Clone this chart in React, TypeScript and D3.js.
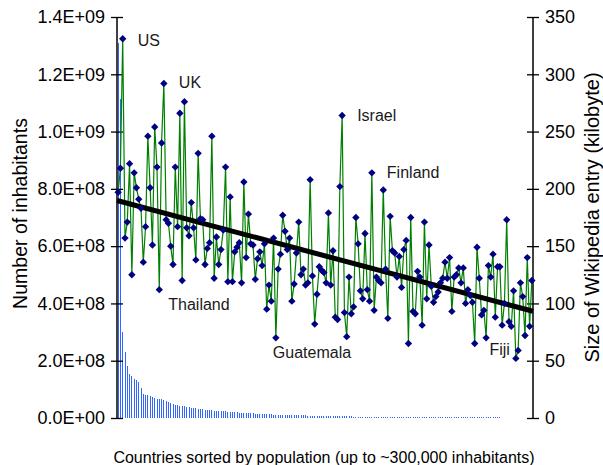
import { useEffect, useRef } from "react";
import * as d3 from "d3";

// Wikipedia article size per country (kB), countries sorted by population
const articleKb = [
  197, 218, 331, 157, 171, 222, 125, 214, 201, 191, 183, 136, 167, 246, 201, 151, 254, 219, 112, 240,
  292, 173, 170, 150, 134, 219, 167, 266, 120, 276, 166, 159, 188, 166, 138, 231, 174, 173, 134, 148,
  153, 246, 122, 158, 134, 147, 164, 219, 119, 193, 119, 145, 149, 153, 118, 206, 140, 178, 152, 151,
  121, 139,
  145, 133, 152, 95, 116, 102, 157, 70, 130, 143, 177, 163, 147, 157, 102, 117, 144, 171, 125, 130,
  116, 118, 208, 124, 82, 108, 132, 129, 127, 118, 179, 116, 146, 88, 86, 202, 264, 92, 71, 123,
  91, 97, 175, 152, 111, 104, 161, 112, 102, 214, 94, 123, 120, 118, 199, 130, 87, 176, 146, 144,
  123,
  141, 114, 147, 155, 65, 175, 93, 91, 128, 123, 81, 171, 104, 151, 115, 101, 106, 110, 118, 122,
  136, 122, 140, 93, 123, 125, 131, 118, 131, 100, 112, 107, 101, 65, 149, 122, 90, 94, 70, 133,
  123, 143, 88, 132, 132, 81, 100, 173, 84, 80, 111, 52, 59, 118, 106, 72, 140, 80, 120,
];

// Population in millions, same order
const populationM = [
  1310, 1114, 299, 230, 183, 155, 145, 137, 131, 125,
  106, 85, 81, 79, 76, 73, 70, 67, 67, 66,
  62, 59, 56, 54, 50, 45, 44, 43, 43, 42,
  40, 38, 35, 34, 34, 33, 31, 30, 29, 29,
  28, 27, 26, 26, 25, 24, 23, 23, 22, 21,
  21, 20, 19.5, 19, 18.5, 18, 17.5, 17, 16.5, 16,
  15.5, 15, 14.5, 14, 13.5, 13, 13, 12.5, 12, 12,
  11.5, 11, 11, 10.5, 10.5, 10.3, 10.1, 10, 9.8, 9.5,
  9.2, 9, 8.8, 8.5, 8.2, 8, 7.8, 7.5, 7.3, 7.2,
  7, 6.9, 6.7, 6.5, 6.4, 6.2, 6, 5.9, 5.8, 5.6,
  5.5, 5.4, 5.3, 5.2, 5.1, 5, 4.9, 4.7, 4.5, 4.4,
  4.3, 4.2, 4.1, 4, 3.9, 3.8, 3.6, 3.5, 3.4, 3.3,
  3.2, 3.1, 3.0, 2.9, 2.8, 2.7, 2.6, 2.5, 2.4, 2.3,
  2.2, 2.1, 2.0, 2.0, 1.9, 1.9, 1.8, 1.7, 1.6, 1.5,
  1.5, 1.4, 1.4, 1.3, 1.3, 1.2, 1.2, 1.1, 1.1, 1.0,
  1.0, 0.95, 0.9, 0.9, 0.85, 0.8, 0.8, 0.75, 0.7, 0.7,
  0.65, 0.65, 0.6, 0.6, 0.55, 0.55, 0.5, 0.5, 0.48, 0.46,
  0.44, 0.42, 0.41, 0.4, 0.38, 0.36, 0.35, 0.34, 0.33, 0.32,
  0.31, 0.3,
];

const leftTicks = [0, 2e8, 4e8, 6e8, 8e8, 1e9, 1.2e9, 1.4e9];
const leftTickLabels = ["0.0E+00", "2.0E+08", "4.0E+08", "6.0E+08", "8.0E+08", "1.0E+09", "1.2E+09", "1.4E+09"];
const rightTicks = [0, 50, 100, 150, 200, 250, 300, 350];
const rightTickLabels = ["0", "50", "100", "150", "200", "250", "300", "350"];

// labelled countries: index into the arrays above
const labelNames = ["US", "UK", "Thailand", "Israel", "Finland", "Guatemala", "Fiji"];
const labelIndex = [2, 20, 18, 98, 111, 69, 174];

const W = 603;
const H = 465;
const PLOT = { left: 117, right: 533, top: 17, bottom: 418 };
const FONT = "'Liberation Sans', Arial, sans-serif";
// like the spreadsheet renderer, tiny bars still get one pixel
const MIN_VISIBLE_POP = 0.5;

// label placement relative to the point
const LABEL_OFFSET: Record<string, [number, number, string]> = {
  US: [15, 7, "start"],
  UK: [15, 5, "start"],
  Thailand: [9, 20, "start"],
  Israel: [15, 5, "start"],
  Finland: [15, 5, "start"],
  Guatemala: [-3, 20, "start"],
  Fiji: [-6, -3, "end"],
};

export default function App() {
  const svgRef = useRef<SVGSVGElement>(null);

  useEffect(() => {
    if (!svgRef.current) return;
    const svg = d3.select(svgRef.current);
    svg.selectAll("*").remove();

    const n = articleKb.length;
    const x = d3.scaleLinear().domain([-0.5, n - 0.5]).range([PLOT.left, PLOT.right]);
    const yPop = d3.scaleLinear().domain([0, 1.4e9]).range([PLOT.bottom, PLOT.top]);
    const yKb = d3.scaleLinear().domain([0, 350]).range([PLOT.bottom, PLOT.top]);

    svg.append("rect").attr("width", W).attr("height", H).attr("fill", "#fff");

    // population bars
    const barH = (d: number) => {
      const h = PLOT.bottom - yPop(d * 1e6);
      return d >= MIN_VISIBLE_POP ? Math.max(1, h) : h;
    };
    svg
      .append("g")
      .attr("shape-rendering", "crispEdges")
      .selectAll("rect")
      .data(populationM.slice(0, n))
      .join("rect")
      .attr("x", (_, i) => Math.round(x(i) - 0.5))
      .attr("y", (d) => PLOT.bottom - barH(d))
      .attr("width", 1)
      .attr("height", (d) => barH(d))
      .attr("fill", "#3366ff");

    // left axis
    svg
      .append("g")
      .attr("transform", `translate(${PLOT.left},0)`)
      .call(
        d3
          .axisLeft(yPop)
          .tickValues(leftTicks)
          .tickSize(6)
          .tickPadding(6)
          .tickFormat((_, i) => leftTickLabels[i])
      )
      .call((g) => g.select(".domain").attr("stroke", "#000").attr("stroke-width", 1.5).attr("d", `M0,${PLOT.top}V${PLOT.bottom}`))
      .call((g) => g.selectAll(".tick line").attr("x1", 6).attr("stroke", "#000").attr("stroke-width", 1.3))
      .call((g) =>
        g.selectAll(".tick text").attr("fill", "#000").attr("font-size", 18).attr("font-family", FONT)
      );

    // right axis
    svg
      .append("g")
      .attr("transform", `translate(${PLOT.right},0)`)
      .call(
        d3
          .axisRight(yKb)
          .tickValues(rightTicks)
          .tickSize(6)
          .tickPadding(6)
          .tickFormat((_, i) => rightTickLabels[i])
      )
      .call((g) => g.select(".domain").attr("stroke", "#000").attr("stroke-width", 1.5).attr("d", `M0,${PLOT.top}V${PLOT.bottom}`))
      .call((g) => g.selectAll(".tick line").attr("x1", -6).attr("stroke", "#000").attr("stroke-width", 1.3))
      .call((g) =>
        g.selectAll(".tick text").attr("fill", "#000").attr("font-size", 18).attr("font-family", FONT)
      );

    // article size line
    const line = d3
      .line<number>()
      .x((_, i) => x(i))
      .y((d) => yKb(d));

    svg
      .append("path")
      .datum(articleKb)
      .attr("d", line)
      .attr("fill", "none")
      .attr("stroke", "#008000")
      .attr("stroke-width", 1.2);

    // linear trendline (least squares)
    const xm = d3.mean(articleKb, (_, i) => i) as number;
    const ym = d3.mean(articleKb) as number;
    let sxy = 0;
    let sxx = 0;
    articleKb.forEach((v, i) => {
      sxy += (i - xm) * (v - ym);
      sxx += (i - xm) * (i - xm);
    });
    const slope = sxy / sxx;
    const icpt = ym - slope * xm;
    const trendDomain = [-0.5, n - 0.5];

    svg
      .append("line")
      .attr("x1", x(trendDomain[0]))
      .attr("x2", x(trendDomain[1]))
      .attr("y1", yKb(icpt + slope * trendDomain[0]))
      .attr("y2", yKb(icpt + slope * trendDomain[1]))
      .attr("stroke", "#000")
      .attr("stroke-width", 5);

    // markers
    const diamond = d3.symbol(d3.symbolSquare, 27)();
    svg
      .append("g")
      .selectAll("path")
      .data(articleKb)
      .join("path")
      .attr("d", diamond)
      .attr("transform", (d, i) => `translate(${x(i)},${yKb(d)}) rotate(45)`)
      .attr("fill", "#000080");

    // country labels
    svg
      .append("g")
      .selectAll("text")
      .data(labelNames)
      .join("text")
      .attr("x", (d, k) => x(labelIndex[k]) + LABEL_OFFSET[d][0])
      .attr("y", (d, k) => yKb(articleKb[labelIndex[k]]) + LABEL_OFFSET[d][1])
      .attr("text-anchor", (d) => LABEL_OFFSET[d][2])
      .attr("font-family", FONT)
      .attr("font-size", 16)
      .attr("fill", "#1a1a1a")
      .text((d) => d);

    // axis titles
    svg
      .append("text")
      .attr("transform", `translate(27,${(PLOT.top + PLOT.bottom) / 2 - 4}) rotate(-90)`)
      .attr("text-anchor", "middle")
      .attr("font-family", FONT)
      .attr("font-size", 19.5)
      .attr("fill", "#000")
      .text("Number of inhabitants");

    svg
      .append("text")
      .attr("transform", `translate(599,${(PLOT.top + PLOT.bottom) / 2}) rotate(-90)`)
      .attr("text-anchor", "middle")
      .attr("font-family", FONT)
      .attr("font-size", 20)
      .attr("fill", "#000")
      .text("Size of Wikipedia entry (kilobyte)");

    svg
      .append("text")
      .attr("x", 324)
      .attr("y", 463)
      .attr("text-anchor", "middle")
      .attr("font-family", FONT)
      .attr("font-size", 16)
      .attr("fill", "#000")
      .text("Countries sorted by population (up to ~300,000 inhabitants)");
  }, []);

  return (
    <svg
      ref={svgRef}
      width={W}
      height={H}
      style={{ position: "absolute", left: 0, top: 0, display: "block" }}
    />
  );
}
